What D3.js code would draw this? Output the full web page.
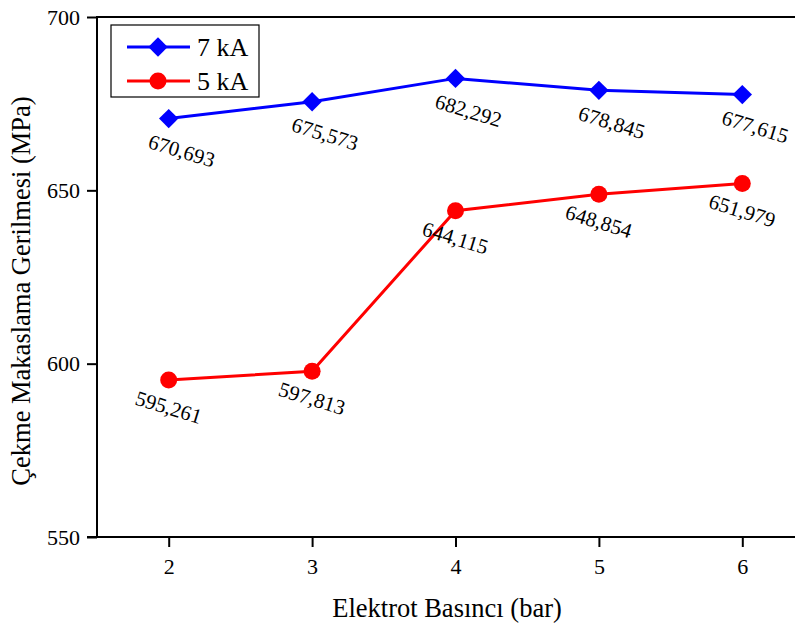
<!DOCTYPE html>
<html lang="tr">
<head>
    <meta charset="UTF-8">
    <title>Çekme Makaslama Gerilmesi</title>
    <script src="https://d3js.org/d3.v7.min.js"></script>
    <style>
        body {
            margin: 0;
            background: #fff;
        }
        svg text {
            font-family: "Times New Roman", "Liberation Serif", Tinos, serif;
            fill: #000;
        }
        .tick-label {
            font-size: 22px;
        }
        .axis-title {
            font-size: 26.5px;
        }
        .value-label {
            font-size: 21px;
        }
        .legend-label {
            font-size: 26px;
        }
    </style>
</head>
<body>
<svg id="chart" width="795" height="628"></svg>

<script>
    const pressures = [2, 3, 4, 5, 6];
    const series7kA = [670.693, 675.573, 682.292, 678.845, 677.615];
    const series5kA = [595.261, 597.813, 644.115, 648.854, 651.979];
    const yTicks = [550, 600, 650, 700];
    const seriesNames = ["7 kA", "5 kA"];

    const width = 795;
    const height = 628;
    const margin = { top: 17, left: 97, bottom: 537 };
    const serif = '"Times New Roman", "Liberation Serif", Tinos, serif';

    const svg = d3.select("#chart")
        .attr("width", width)
        .attr("height", height);

    const x = d3.scaleLinear()
        .domain([1.5, 6.5])
        .range([margin.left, 814]);

    const y = d3.scaleLinear()
        .domain([550, 700])
        .range([margin.bottom, margin.top]);

    const fmt = v => v.toFixed(3).replace(".", ",");

    // eksenler
    const xAxis = svg.append("g")
        .attr("transform", `translate(0, ${margin.bottom})`)
        .call(d3.axisBottom(x).tickValues(pressures).tickFormat(d3.format("d")).tickSize(10).tickPadding(11));
    xAxis.attr("font-family", serif);
    xAxis.select(".domain").remove();
    xAxis.selectAll(".tick line").attr("stroke", "#000").attr("stroke-width", 2);
    xAxis.selectAll(".tick text")
        .attr("class", "tick-label")
        .attr("fill", "#000")
        .style("font-size", "22px");

    const yAxis = svg.append("g")
        .attr("transform", `translate(${margin.left}, 0)`)
        .call(d3.axisLeft(y).tickValues(yTicks).tickFormat(d3.format("d")).tickSize(10).tickPadding(7));
    yAxis.attr("font-family", serif);
    yAxis.select(".domain").remove();
    yAxis.selectAll(".tick line").attr("stroke", "#000").attr("stroke-width", 2);
    yAxis.selectAll(".tick text")
        .attr("class", "tick-label")
        .attr("fill", "#000")
        .style("font-size", "22px");

    // çerçeve çizgileri
    svg.append("line")
        .attr("x1", margin.left).attr("x2", margin.left)
        .attr("y1", margin.top - 1).attr("y2", margin.bottom + 1)
        .attr("stroke", "#000").attr("stroke-width", 2);
    svg.append("line")
        .attr("x1", margin.left - 10).attr("x2", 814)
        .attr("y1", margin.bottom).attr("y2", margin.bottom)
        .attr("stroke", "#000").attr("stroke-width", 2);
    svg.append("line")
        .attr("x1", margin.left).attr("x2", 814)
        .attr("y1", margin.top).attr("y2", margin.top)
        .attr("stroke", "#000").attr("stroke-width", 2);

    const line = d3.line()
        .x((d, i) => x(pressures[i]))
        .y(d => y(d));

    const diamond = d3.symbol().type(d3.symbolDiamond2).size(240);

    // 7 kA
    svg.append("path")
        .datum(series7kA)
        .attr("d", line)
        .attr("fill", "none")
        .attr("stroke", "#0000ff")
        .attr("stroke-width", 3);

    svg.selectAll(".m7")
        .data(series7kA)
        .enter()
        .append("path")
        .attr("class", "m7")
        .attr("d", diamond)
        .attr("transform", (d, i) => `translate(${x(pressures[i])}, ${y(d)})`)
        .attr("fill", "#0000ff");

    // 5 kA
    svg.append("path")
        .datum(series5kA)
        .attr("d", line)
        .attr("fill", "none")
        .attr("stroke", "#ff0000")
        .attr("stroke-width", 3);

    svg.selectAll(".m5")
        .data(series5kA)
        .enter()
        .append("circle")
        .attr("class", "m5")
        .attr("cx", (d, i) => x(pressures[i]))
        .attr("cy", d => y(d))
        .attr("r", 8.5)
        .attr("fill", "#ff0000");

    // değer etiketleri
    svg.selectAll(".v7")
        .data(series7kA)
        .enter()
        .append("text")
        .attr("class", "value-label")
        .attr("text-anchor", "middle")
        .attr("dy", "0.35em")
        .attr("transform", (d, i) => `translate(${x(pressures[i]) + 13}, ${y(d) + 32}) rotate(17)`)
        .text(d => fmt(d));

    svg.selectAll(".v5")
        .data(series5kA)
        .enter()
        .append("text")
        .attr("class", "value-label")
        .attr("text-anchor", "middle")
        .attr("dy", "0.35em")
        .attr("transform", (d, i) => `translate(${x(pressures[i])}, ${y(d) + 27}) rotate(17)`)
        .text(d => fmt(d));

    // eksen başlıkları
    svg.append("text")
        .attr("class", "axis-title")
        .attr("x", 447)
        .attr("y", 617)
        .attr("text-anchor", "middle")
        .text("Elektrot Basıncı (bar)");

    svg.append("text")
        .attr("class", "axis-title")
        .attr("transform", "translate(30, 291) rotate(-90)")
        .attr("text-anchor", "middle")
        .text("Çekme Makaslama Gerilmesi (MPa)");

    // lejant
    const legend = svg.append("g");
    legend.append("rect")
        .attr("x", 111)
        .attr("y", 25)
        .attr("width", 148)
        .attr("height", 72)
        .attr("fill", "#fff")
        .attr("stroke", "#000")
        .attr("stroke-width", 1.2);

    const legendRows = [
        { name: seriesNames[0], color: "#0000ff", y: 47 },
        { name: seriesNames[1], color: "#ff0000", y: 81 }
    ];

    legendRows.forEach((row, i) => {
        legend.append("line")
            .attr("x1", 127).attr("x2", 190)
            .attr("y1", row.y).attr("y2", row.y)
            .attr("stroke", row.color)
            .attr("stroke-width", 3);
        if (i === 0) {
            legend.append("path")
                .attr("d", diamond)
                .attr("transform", `translate(158, ${row.y})`)
                .attr("fill", row.color);
        } else {
            legend.append("circle")
                .attr("cx", 158).attr("cy", row.y)
                .attr("r", 8.5)
                .attr("fill", row.color);
        }
        legend.append("text")
            .attr("class", "legend-label")
            .attr("x", 197)
            .attr("y", row.y)
            .attr("dy", "0.35em")
            .text(row.name);
    });
</script>
</body>
</html>
